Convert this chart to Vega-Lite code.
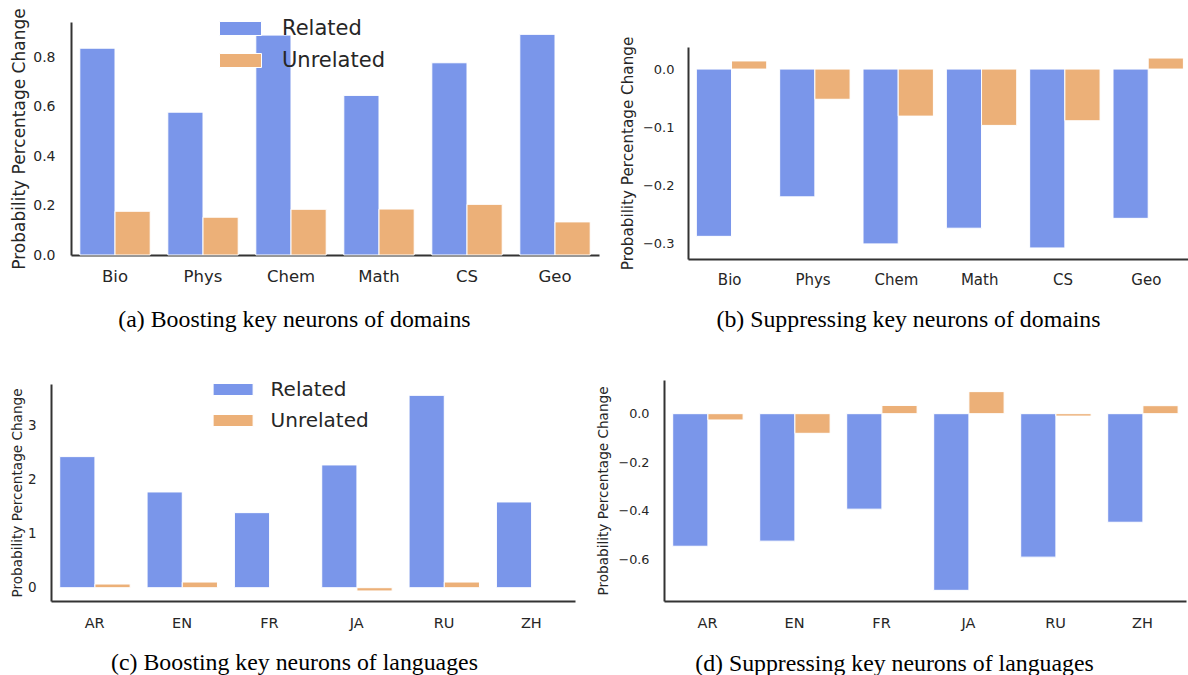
{
  "$schema": "https://vega.github.io/schema/vega-lite/v6.json",
  "background": "white",
  "padding": {"left": 9, "top": 7, "right": 0, "bottom": 0},
  "config": {
    "view": {"stroke": null},
    "font": "DejaVu Sans",
    "axis": {
      "grid": false,
      "ticks": false,
      "domainColor": "#333333",
      "domainWidth": 2,
      "labelColor": "#262626",
      "titleColor": "#262626",
      "titleFontWeight": "normal",
      "labelFont": "DejaVu Sans",
      "titleFont": "DejaVu Sans"
    },
    "axisX": {
      "labelAngle": 0,
      "titleFont": "Liberation Serif",
      "titleColor": "#000000",
      "titleFontSize": 23.8,
      "titleBaseline": "middle"
    },
    "bar": {"stroke": "white", "strokeWidth": 1},
    "legend": {
      "padding": 0,
      "symbolStrokeWidth": 0,
      "symbolOpacity": 1,
      "labelFont": "DejaVu Sans",
      "labelColor": "#262626"
    }
  },
  "datasets": {
    "domains_boost": [
      {"cat": "Bio", "series": "Related", "value": 0.837},
      {"cat": "Bio", "series": "Unrelated", "value": 0.177},
      {"cat": "Phys", "series": "Related", "value": 0.578},
      {"cat": "Phys", "series": "Unrelated", "value": 0.153},
      {"cat": "Chem", "series": "Related", "value": 0.890},
      {"cat": "Chem", "series": "Unrelated", "value": 0.185},
      {"cat": "Math", "series": "Related", "value": 0.646},
      {"cat": "Math", "series": "Unrelated", "value": 0.186},
      {"cat": "CS", "series": "Related", "value": 0.778},
      {"cat": "CS", "series": "Unrelated", "value": 0.205},
      {"cat": "Geo", "series": "Related", "value": 0.893},
      {"cat": "Geo", "series": "Unrelated", "value": 0.134}
    ],
    "domains_supp": [
      {"cat": "Bio", "series": "Related", "value": -0.288},
      {"cat": "Bio", "series": "Unrelated", "value": 0.014},
      {"cat": "Phys", "series": "Related", "value": -0.220},
      {"cat": "Phys", "series": "Unrelated", "value": -0.052},
      {"cat": "Chem", "series": "Related", "value": -0.301},
      {"cat": "Chem", "series": "Unrelated", "value": -0.081},
      {"cat": "Math", "series": "Related", "value": -0.274},
      {"cat": "Math", "series": "Unrelated", "value": -0.097},
      {"cat": "CS", "series": "Related", "value": -0.308},
      {"cat": "CS", "series": "Unrelated", "value": -0.089},
      {"cat": "Geo", "series": "Related", "value": -0.257},
      {"cat": "Geo", "series": "Unrelated", "value": 0.019}
    ],
    "lang_boost": [
      {"cat": "AR", "series": "Related", "value": 2.426},
      {"cat": "AR", "series": "Unrelated", "value": 0.068},
      {"cat": "EN", "series": "Related", "value": 1.772},
      {"cat": "EN", "series": "Unrelated", "value": 0.105},
      {"cat": "FR", "series": "Related", "value": 1.389},
      {"cat": "FR", "series": "Unrelated", "value": 0.0},
      {"cat": "JA", "series": "Related", "value": 2.272},
      {"cat": "JA", "series": "Unrelated", "value": -0.06},
      {"cat": "RU", "series": "Related", "value": 3.56},
      {"cat": "RU", "series": "Unrelated", "value": 0.105},
      {"cat": "ZH", "series": "Related", "value": 1.587},
      {"cat": "ZH", "series": "Unrelated", "value": 0.0}
    ],
    "lang_supp": [
      {"cat": "AR", "series": "Related", "value": -0.547},
      {"cat": "AR", "series": "Unrelated", "value": -0.026},
      {"cat": "EN", "series": "Related", "value": -0.526},
      {"cat": "EN", "series": "Unrelated", "value": -0.081},
      {"cat": "FR", "series": "Related", "value": -0.394},
      {"cat": "FR", "series": "Unrelated", "value": 0.034},
      {"cat": "JA", "series": "Related", "value": -0.729},
      {"cat": "JA", "series": "Unrelated", "value": 0.091},
      {"cat": "RU", "series": "Related", "value": -0.592},
      {"cat": "RU", "series": "Unrelated", "value": -0.010},
      {"cat": "ZH", "series": "Related", "value": -0.448},
      {"cat": "ZH", "series": "Unrelated", "value": 0.033}
    ],
    "empty": []
  },
  "spacing": 38,
  "resolve": {"scale": {"color": "independent"}, "legend": {"color": "independent"}},
  "vconcat": [
    {
      "spacing": 0,
      "resolve": {"scale": {"color": "independent"}, "legend": {"color": "independent"}},
      "hconcat": [
        {"width": 1, "height": 1, "data": {"name": "empty"}, "mark": {"type": "point"}, "encoding": {}},
        {
          "spacing": 21,
          "resolve": {"scale": {"color": "independent"}, "legend": {"color": "independent"}},
          "hconcat": [
            {
              "width": 528,
              "height": 233,
              "data": {"name": "domains_boost"},
              "mark": {"type": "bar"},
              "encoding": {
                "x": {
                  "field": "cat", "type": "nominal",
                  "sort": ["Bio", "Phys", "Chem", "Math", "CS", "Geo"],
                  "scale": {"paddingInner": 0.2, "paddingOuter": 0.1},
                  "axis": {"title": "(a) Boosting key neurons of domains", "labelFontSize": 16.5, "labelPadding": 13.5, "titleX": 223, "titleY": 64}
                },
                "xOffset": {"field": "series", "type": "nominal", "sort": ["Related", "Unrelated"], "scale": {"paddingInner": 0, "paddingOuter": 0}},
                "y": {
                  "field": "value", "type": "quantitative",
                  "scale": {"domain": [0, 0.943], "nice": false},
                  "axis": {"title": "Probability Percentage Change", "values": [0, 0.2, 0.4, 0.6, 0.8], "format": ".1f", "labelFontSize": 14, "labelPadding": 16, "titleFontSize": 17, "titlePadding": 4}
                },
                "color": {
                  "field": "series", "type": "nominal",
                  "scale": {"domain": ["Related", "Unrelated"], "range": ["#7A96EA", "#ECB078"]},
                  "legend": {"title": null, "orient": "none", "legendX": 148, "legendY": -15, "labelFontSize": 21, "labelOffset": 20, "rowPadding": -10.5, "symbolType": "M-1,-0.333H1V0.333H-1Z", "symbolSize": 1764}
                }
              }
            },
            {
              "spacing": 13,
              "resolve": {"scale": {"color": "independent"}, "legend": {"color": "independent"}},
              "vconcat": [
                {"width": 1, "height": 1, "data": {"name": "empty"}, "mark": {"type": "point"}, "encoding": {}},
                {
                  "width": 500,
                  "height": 212,
                  "data": {"name": "domains_supp"},
                  "mark": {"type": "bar"},
                  "encoding": {
                    "x": {
                      "field": "cat", "type": "nominal",
                      "sort": ["Bio", "Phys", "Chem", "Math", "CS", "Geo"],
                      "scale": {"paddingInner": 0.2, "paddingOuter": 0.1},
                      "axis": {"title": "(b) Suppressing key neurons of domains", "labelFontSize": 15, "labelPadding": 13, "titleX": 220, "titleY": 60}
                    },
                    "xOffset": {"field": "series", "type": "nominal", "sort": ["Related", "Unrelated"], "scale": {"paddingInner": 0, "paddingOuter": 0}},
                    "y": {
                      "field": "value", "type": "quantitative",
                      "scale": {"domain": [-0.327, 0.038], "nice": false},
                      "axis": {"title": "Probability Percentage Change", "values": [-0.3, -0.2, -0.1, 0], "format": ".1f", "labelFontSize": 13, "labelPadding": 14, "titleFontSize": 15.2, "titlePadding": 7}
                    },
                    "color": {
                      "field": "series", "type": "nominal",
                      "scale": {"domain": ["Related", "Unrelated"], "range": ["#7A96EA", "#ECB078"]},
                      "legend": null
                    }
                  }
                }
              ]
            }
          ]
        }
      ]
    },
    {
      "spacing": 0,
      "resolve": {"scale": {"color": "independent"}, "legend": {"color": "independent"}},
      "hconcat": [
        {"width": 1, "height": 1, "data": {"name": "empty"}, "mark": {"type": "point"}, "encoding": {}},
        {
          "spacing": 21,
          "resolve": {"scale": {"color": "independent"}, "legend": {"color": "independent"}},
          "hconcat": [
            {
              "spacing": -12,
              "resolve": {"scale": {"color": "independent"}, "legend": {"color": "independent"}},
              "vconcat": [
                {"width": 1, "height": 1, "data": {"name": "empty"}, "mark": {"type": "point"}, "encoding": {}},
                {
                  "width": 524,
                  "height": 217,
                  "data": {"name": "lang_boost"},
                  "mark": {"type": "bar"},
                  "encoding": {
                    "x": {
                      "field": "cat", "type": "nominal",
                      "sort": ["AR", "EN", "FR", "JA", "RU", "ZH"],
                      "scale": {"paddingInner": 0.2, "paddingOuter": 0.1},
                      "axis": {"title": "(c) Boosting key neurons of languages", "labelFontSize": 14.5, "labelPadding": 15, "titleX": 243, "titleY": 61}
                    },
                    "xOffset": {"field": "series", "type": "nominal", "sort": ["Related", "Unrelated"], "scale": {"paddingInner": 0, "paddingOuter": 0}},
                    "y": {
                      "field": "value", "type": "quantitative",
                      "scale": {"domain": [-0.246, 3.77], "nice": false},
                      "axis": {"title": "Probability Percentage Change", "values": [0, 1, 2, 3], "format": "d", "labelFontSize": 13.5, "labelPadding": 15, "titleFontSize": 13.6, "titlePadding": 3}
                    },
                    "color": {
                      "field": "series", "type": "nominal",
                      "scale": {"domain": ["Related", "Unrelated"], "range": ["#7A96EA", "#ECB078"]},
                      "legend": {"title": null, "orient": "none", "legendX": 161.6, "legendY": -15, "labelFontSize": 20, "labelOffset": 17, "rowPadding": -12, "symbolType": "M-1,-0.3H1V0.3H-1Z", "symbolSize": 1600}
                    }
                  }
                }
              ]
            },
            {
              "width": 522,
              "height": 221,
              "data": {"name": "lang_supp"},
              "mark": {"type": "bar"},
              "encoding": {
                "x": {
                  "field": "cat", "type": "nominal",
                  "sort": ["AR", "EN", "FR", "JA", "RU", "ZH"],
                  "scale": {"paddingInner": 0.2, "paddingOuter": 0.1},
                  "axis": {"title": "(d) Suppressing key neurons of languages", "labelFontSize": 14.5, "labelPadding": 15, "titleX": 230, "titleY": 62}
                },
                "xOffset": {"field": "series", "type": "nominal", "sort": ["Related", "Unrelated"], "scale": {"paddingInner": 0, "paddingOuter": 0}},
                "y": {
                  "field": "value", "type": "quantitative",
                  "scale": {"domain": [-0.773, 0.139], "nice": false},
                  "axis": {"title": "Probability Percentage Change", "values": [-0.6, -0.4, -0.2, 0], "format": ".1f", "labelFontSize": 12.8, "labelPadding": 15, "titleFontSize": 13.6, "titlePadding": 7}
                },
                "color": {
                  "field": "series", "type": "nominal",
                  "scale": {"domain": ["Related", "Unrelated"], "range": ["#7A96EA", "#ECB078"]},
                  "legend": null
                }
              }
            }
          ]
        }
      ]
    }
  ]
}
